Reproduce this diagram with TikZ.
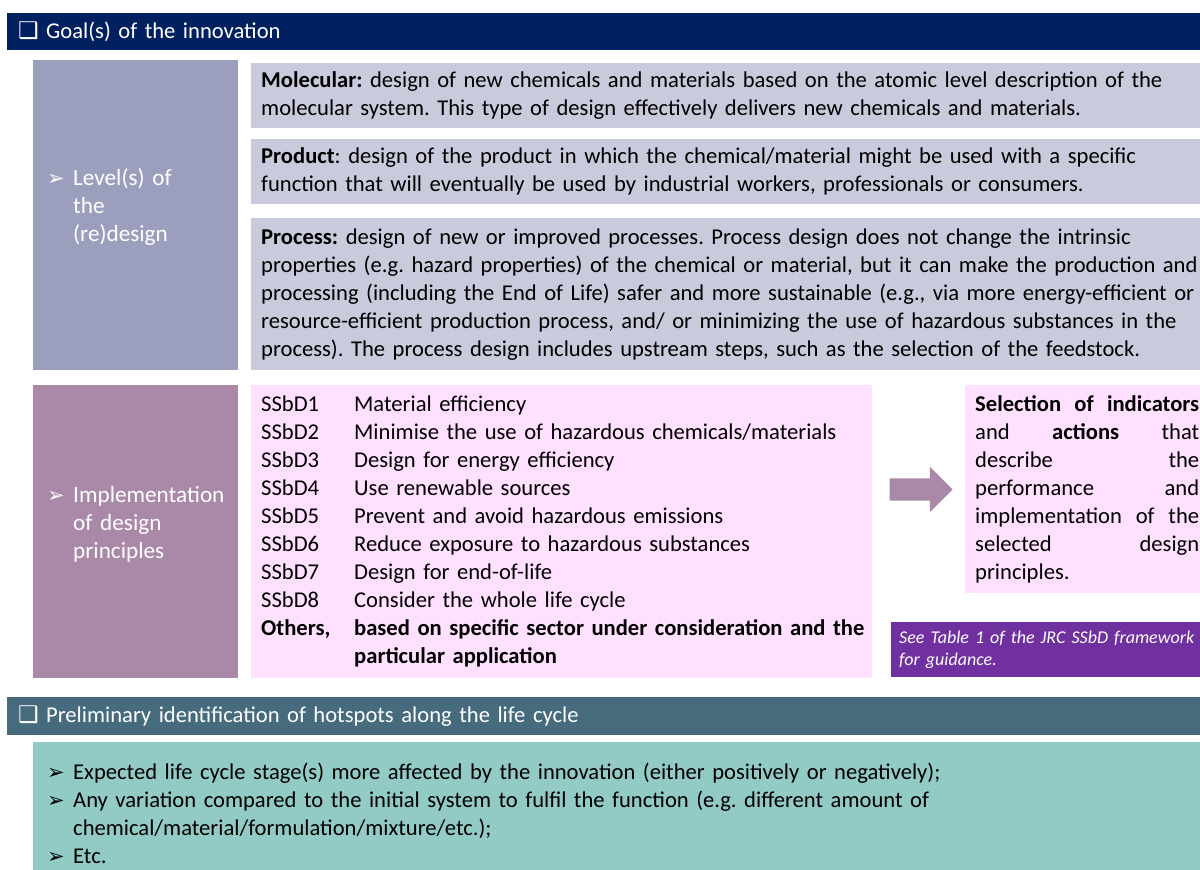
\documentclass[tikz,border=0pt]{standalone}
\usepackage{fontspec}
\setmainfont{Carlito}
\newfontfamily\symfont{DejaVu Sans}
\usetikzlibrary{positioning,shapes.arrows}

\definecolor{goalblue}{RGB}{0,32,96}
\definecolor{hotblue}{RGB}{70,107,125}
\definecolor{levelgrey}{RGB}{155,159,189}
\definecolor{lavender}{RGB}{201,202,220}
\definecolor{implmauve}{RGB}{170,136,168}
\definecolor{lightpink}{RGB}{255,225,255}
\definecolor{notepurple}{RGB}{112,48,160}
\definecolor{hotteal}{RGB}{146,203,197}

\newcommand{\bodyfont}{\fontsize{22.6}{28}\selectfont\frenchspacing}
\newcommand{\sidefont}{\fontsize{23.2}{28}\selectfont}
\newcommand{\chkbox}{\smash{\symfont\fontsize{23}{23}\selectfont ❑}}
\newcommand{\bul}{\smash{\symfont\fontsize{21}{21}\selectfont ➢}}

\begin{document}
\begin{tikzpicture}[x=1pt,y=-1pt,
  headbar/.style={anchor=north west,text=white,minimum height=#1,
    text width=1200pt,inner xsep=11pt,inner ysep=0pt,align=left,font=\bodyfont},
  sidebox/.style={anchor=north west,text=white,text width=177pt,
    minimum height=#1,inner xsep=14pt,align=left,font=\sidefont},
  descbox/.style={anchor=north west,fill=lavender,text width=950pt,
    minimum height=#1,inner xsep=10pt,inner ysep=0pt,align=left,font=\bodyfont},
  pinkbox/.style={anchor=north west,fill=lightpink,minimum height=#1,
    inner xsep=10pt,inner ysep=0pt,align=left,font=\bodyfont}]
  \useasboundingbox (0,0) rectangle (1200,870);
  \clip (0,0) rectangle (1200,870);

  % Goal(s) of the innovation
  \node[headbar=37pt,fill=goalblue] (goal) at (7,13)
    {\makebox[28pt][l]{\chkbox}Goal(s) of the innovation};

  % level(s) of the (re)design
  \node[sidebox=310pt,fill=levelgrey] (level) at (33,60)
    {\begin{tabular}{@{}p{26pt}@{}l@{}}
      \bul & Level(s) of\\ & the\\ & (re)design\\[14pt]
    \end{tabular}};
  \node[descbox=65pt] (mol) at (251,63)
    {\textbf{Molecular:} design of new chemicals and materials based on the atomic level description of the\\
     molecular system. This type of design effectively delivers new chemicals and materials.};
  \node[descbox=65pt] (prod) at (251,139)
    {\textbf{Product}: design of the product in which the chemical/material might be used with a specific\\
     function that will eventually be used by industrial workers, professionals or consumers.};
  \node[descbox=152pt] (proc) at (251,218)
    {\textbf{Process:} design of new or improved processes. Process design does not change the intrinsic\\
     properties (e.g. hazard properties) of the chemical or material, but it can make the production and\\
     processing (including the End of Life) safer and more sustainable (e.g., via more energy-efficient or\\
     resource-efficient production process, and/ or minimizing the use of hazardous substances in the\\
     process). The process design includes upstream steps, such as the selection of the feedstock.};

  % implementation of design principles
  \node[sidebox=293pt,fill=implmauve] (impl) at (33,385)
    {\begin{tabular}{@{}p{26pt}@{}l@{}}
      \bul & Implementation\\ & of design\\ & principles\\[13pt]
    \end{tabular}};
  \node[pinkbox=293pt,text width=601pt] (ssbd) at (251,385)
    {\begin{tabular}{@{}p{93pt}@{}l@{}}
      SSbD1 & Material efficiency\\
      SSbD2 & Minimise the use of hazardous chemicals/materials\\
      SSbD3 & Design for energy efficiency\\
      SSbD4 & Use renewable sources\\
      SSbD5 & Prevent and avoid hazardous emissions\\
      SSbD6 & Reduce exposure to hazardous substances\\
      SSbD7 & Design for end-of-life\\
      SSbD8 & Consider the whole life cycle\\
      \textbf{Others,} & \textbf{based on specific sector under consideration and the}\\
       & \textbf{particular application}
    \end{tabular}};
  \node[single arrow,fill=implmauve,inner xsep=0pt,inner ysep=11pt,minimum height=63pt,
    minimum width=45pt,single arrow head extend=11.5pt] (arr) at (915.5,489.5) {};
  \node[pinkbox=208pt,text width=224pt,align=justify] (sel) at (965,385)
    {\makebox[\linewidth][s]{\textbf{Selection of indicators}}\\
     \makebox[\linewidth][s]{and \textbf{actions} that}\\
     \makebox[\linewidth][s]{describe the}\\
     \makebox[\linewidth][s]{performance and}\\
     \makebox[\linewidth][s]{implementation of the}\\
     \makebox[\linewidth][s]{selected design}\\
     principles.};
  \node[anchor=north west,fill=notepurple,text=white,minimum height=55pt,
    text width=330pt,inner xsep=8pt,inner ysep=0pt,align=left,
    font=\fontsize{18}{22}\selectfont\itshape] (note) at (891,622)
    {See Table 1 of the JRC SSbD framework\\ for guidance.};

  % hotspots along the life cycle
  \node[headbar=38pt,fill=hotblue] (hot) at (7,697)
    {\makebox[28pt][l]{\chkbox}Preliminary identification of hotspots along the life cycle};
  \node[anchor=north west,fill=hotteal,text width=1170pt,inner xsep=14pt,
    inner ysep=17.5pt,align=left,font=\bodyfont] (hotlist) at (33,742)
    {\begin{tabular}{@{}p{26pt}@{}l@{}}
      \bul & Expected life cycle stage(s) more affected by the innovation (either positively or negatively);\\
      \bul & Any variation compared to the initial system to fulfil the function (e.g. different amount of\\
       & chemical/material/formulation/mixture/etc.);\\
      \bul & Etc.
    \end{tabular}};
\end{tikzpicture}
\end{document}
